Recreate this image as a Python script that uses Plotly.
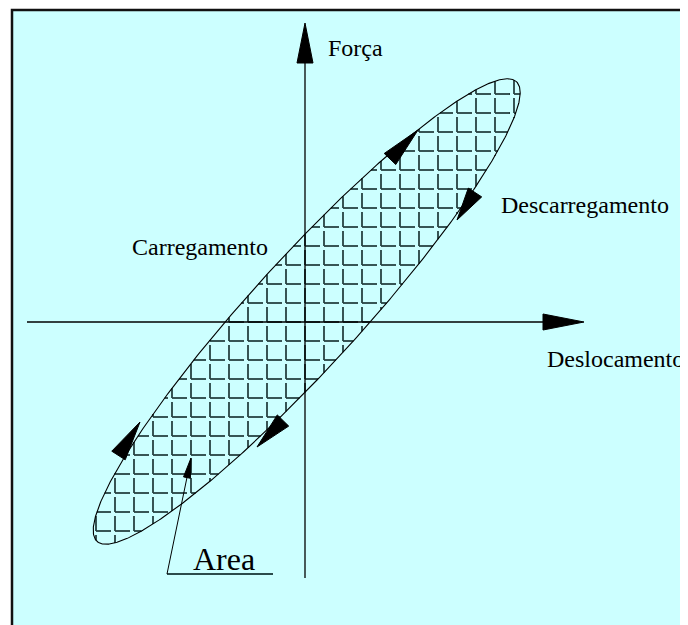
import numpy as np
import plotly.graph_objects as go

# ---- data (origin = crossing of the two axes, units = px) ----
# points on the hysteresis loop (Deslocamento, Força)
loop_x = [202, 212, 210, 200, 193, 188, 140, 65, -2, -45, -135, -168, -202, -218,
          -200, -145, -73, 0, 55, 128, 135, 168, 188]
loop_y = [249, 235, 212, 189, 177, 162, 84, 0, -75, -128, -191, -209, -218, -207,
          -156, -78, 0, 83, 137, 202, 209, 232, 244]

# direction arrows on the loop: tip and base centre
arrow_tip_x = [113, 152, -48, -165]
arrow_tip_y = [192, 102, -125, -100]
arrow_base_x = [85, 170, -22, -186.5]
arrow_base_y = [163, 129.5, -98.5, -133.5]

# axes extents
x_axis_from, x_axis_to = -278, 279
y_axis_from, y_axis_to = -256, 299

# labels
labels = ["Força", "Descarregamento", "Carregamento", "Deslocamento"]
label_x = [22, 195, -174, 241]
label_y = [274, 117, 75, -37]

area_label = "Area"
area_label_pos = (-113, -237)
area_leader_x = [-32, -138, -114]
area_leader_y = [-252, -252, -136]

# ---- styling ----
BG = "#CCFFFF"
HATCH_STEP = 19
HATCH_ARM = 15
PAGE_MARGIN = 8            # browser body margin
W, H = 688 - PAGE_MARGIN, 625 - PAGE_MARGIN
OX, OY = 305 - PAGE_MARGIN, 322 - PAGE_MARGIN  # figure pixel position of axes origin

# ---- geometric ellipse fit (Levenberg-Marquardt, Sampson distance) ----
PX = np.array(loop_x, float)
PY = np.array(loop_y, float)


def resid(p):
    h, k, a, b, t = p
    dx, dy = PX - h, PY - k
    u = dx*np.cos(t) + dy*np.sin(t)
    v = -dx*np.sin(t) + dy*np.cos(t)
    F = (u/a)**2 + (v/b)**2 - 1
    g = 2*np.hypot(u/a**2, v/b**2)
    return F/g


p = np.array([0.0, 8.0, 310.0, 50.0, np.arctan2(1.1, 1.0)])
lam = 1e-3
for _ in range(300):
    r = resid(p)
    J = np.zeros((len(r), 5))
    for i in range(5):
        e = np.zeros(5)
        e[i] = 1e-5 * max(1.0, abs(p[i]))
        J[:, i] = (resid(p + e) - r) / e[i]
    JTJ = J.T @ J
    step = np.linalg.solve(JTJ + lam*np.diag(np.diag(JTJ)), -J.T @ r)
    if np.sum(resid(p + step)**2) < np.sum(r**2):
        p = p + step
        lam *= 0.3
    else:
        lam *= 10
h, k, a, b, th = p
ct, st = np.cos(th), np.sin(th)


def chord(x0, y0, dx, dy):
    u0 = (x0-h)*ct + (y0-k)*st
    v0 = -(x0-h)*st + (y0-k)*ct
    du = dx*ct + dy*st
    dv = -dx*st + dy*ct
    a2 = (du/a)**2 + (dv/b)**2
    a1 = 2*(u0*du/a**2 + v0*dv/b**2)
    a0 = (u0/a)**2 + (v0/b)**2 - 1
    disc = a1*a1 - 4*a2*a0
    if disc <= 0:
        return None
    s = np.sqrt(disc)
    return (-a1 - s)/(2*a2), (-a1 + s)/(2*a2)


s = np.linspace(0, 2*np.pi, 721)
cx = h + a*np.cos(s)*ct - b*np.sin(s)*st
cy = k + a*np.cos(s)*st + b*np.sin(s)*ct

# hatch "L" marks clipped to loop
hx, hy = [], []
for i in range(-14, 15):
    for j in range(-14, 15):
        gx, gy = i*HATCH_STEP, j*HATCH_STEP
        for dx, dy in [(1, 0), (0, 1)]:
            r = chord(gx, gy, dx, dy)
            if r is None:
                continue
            lo, hi = max(r[0], 0), min(r[1], HATCH_ARM)
            if hi > lo:
                hx += [gx + lo*dx, gx + hi*dx, None]
                hy += [gy + lo*dy, gy + hi*dy, None]

fig = go.Figure()
fig.add_shape(type="rect", x0=12-PAGE_MARGIN-OX, x1=W+20-OX, y0=OY-(10-PAGE_MARGIN), y1=OY-(H+20),
              fillcolor=BG, line=dict(color="#111", width=2.5), layer="below")

fig.add_trace(go.Scatter(x=hx, y=hy, mode="lines",
                         line=dict(color="#264242", width=1.8), hoverinfo="skip"))
fig.add_trace(go.Scatter(x=cx, y=cy, mode="lines",
                         line=dict(color="black", width=1.1), hoverinfo="skip"))


def tri(tx, ty, bx, by, half):
    ux, uy = tx - bx, ty - by
    L = np.hypot(ux, uy)
    nx, ny = -uy/L, ux/L
    return [tx, bx + nx*half, bx - nx*half, tx], [ty, by + ny*half, by - ny*half, ty]


# axes
fig.add_trace(go.Scatter(x=[x_axis_from, x_axis_to - 40], y=[0, 0], mode="lines",
                         line=dict(color="black", width=1.3), hoverinfo="skip"))
fig.add_trace(go.Scatter(x=[0, 0], y=[y_axis_from, y_axis_to - 40], mode="lines",
                         line=dict(color="black", width=1.3), hoverinfo="skip"))
for (tx, ty, bx, by) in [(x_axis_to, 0, x_axis_to - 41, 0), (0, y_axis_to, 0, y_axis_to - 40)]:
    px_, py_ = tri(tx, ty, bx, by, 8)
    fig.add_trace(go.Scatter(x=px_, y=py_, mode="lines", fill="toself", fillcolor="black",
                             line=dict(color="black", width=1), hoverinfo="skip"))

for tx, ty, bx, by in zip(arrow_tip_x, arrow_tip_y, arrow_base_x, arrow_base_y):
    px_, py_ = tri(tx, ty, bx, by, 8)
    fig.add_trace(go.Scatter(x=px_, y=py_, mode="lines", fill="toself", fillcolor="black",
                             line=dict(color="black", width=1), hoverinfo="skip"))

# Area leader
fig.add_trace(go.Scatter(x=area_leader_x[:2], y=area_leader_y[:2], mode="lines",
                         line=dict(color="#2b4b4b", width=2), hoverinfo="skip"))
fig.add_trace(go.Scatter(x=area_leader_x[1:], y=area_leader_y[1:], mode="lines",
                         line=dict(color="black", width=1), hoverinfo="skip"))
ldx = area_leader_x[2] - area_leader_x[1]
ldy = area_leader_y[2] - area_leader_y[1]
ll = np.hypot(ldx, ldy)
px_, py_ = tri(area_leader_x[2], area_leader_y[2],
               area_leader_x[2] - 20*ldx/ll, area_leader_y[2] - 20*ldy/ll, 3.5)
fig.add_trace(go.Scatter(x=px_, y=py_, mode="lines", fill="toself", fillcolor="black",
                         line=dict(color="black", width=1), hoverinfo="skip"))

font = dict(family="Liberation Serif", size=24, color="black")
for t, x, y in zip(labels, label_x, label_y):
    fig.add_annotation(x=x, y=y, text=t, showarrow=False, xanchor="left", yanchor="middle",
                       font=font, borderpad=0)
fig.add_annotation(x=area_label_pos[0], y=area_label_pos[1], text=area_label, showarrow=False,
                   xanchor="left", yanchor="middle",
                   font=dict(family="Liberation Serif", size=32, color="black"), borderpad=0)

fig.update_layout(
    width=W, height=H, margin=dict(l=0, r=0, t=0, b=0),
    paper_bgcolor="white", plot_bgcolor="white", showlegend=False,
    xaxis=dict(range=[-OX, W - OX], visible=False, fixedrange=True),
    yaxis=dict(range=[OY - H, OY], visible=False, fixedrange=True),
)
fig.write_html("out.html")
